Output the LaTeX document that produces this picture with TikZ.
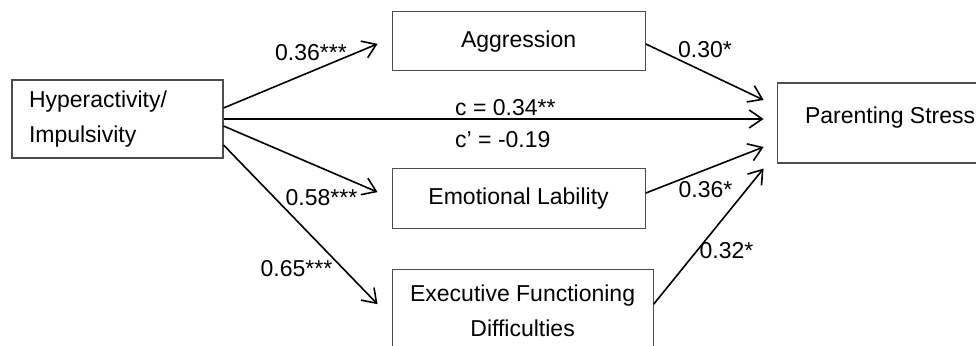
\documentclass[tikz,border=0pt]{standalone}
\usepackage{fontspec}
\setmainfont{Liberation Sans}
\usepackage{tikz}
\usetikzlibrary{shapes,arrows.meta}
\usetikzlibrary{positioning}
\tikzstyle{arrow} = [line width=1.6pt,-{Straight Barb[length=13pt,width=18pt]}]
\tikzstyle{var} = [
    rectangle, minimum width=253pt, minimum height=60pt, text centered,
    draw=black!70, line width=1.1pt, font=\fontsize{23}{35}\selectfont]
\tikzstyle{coef} = [inner sep=0pt, anchor=base, font=\fontsize{23}{35}\selectfont]

\begin{document}
\begin{tikzpicture}[x=1pt,y=-1pt]
\useasboundingbox (0,0) rectangle (976,345);
\clip (0,0) rectangle (976,345);

\node (hyper) [var, minimum width=0pt, text width=177pt, inner xsep=17pt,
    minimum height=78pt, align=left] at (117.5,119) {
    Hyperactivity/ \\
    Impulsivity
};

\node (aggr) [var, minimum height=59pt, above right=8pt and 168pt of hyper] {Aggression};

\node (emo) [var, below right=9pt and 168pt of hyper] {Emotional Lability};

\node (exec) [var, minimum width=261pt, minimum height=84pt, align=center,
    below right=40pt and 0pt of emo.south west] {
    Executive Functioning \\
    Difficulties
};

\node (stress) [var, minimum width=226pt, minimum height=80pt, text height=20pt,
    text depth=20pt, right=553pt of hyper, yshift=-4pt] {Parenting Stress};

\draw [arrow] ([yshift=11pt]hyper.east) -- ([xshift=-14pt,yshift=-2.5pt]aggr.west);
\draw [arrow] (hyper.east) -- ([xshift=-13pt,yshift=4pt]stress.west);
\draw [arrow] ([yshift=-7pt]hyper.east) -- ([xshift=-14pt,yshift=6pt]emo.west);
\draw [arrow] ([yshift=-26pt]hyper.east) -- ([xshift=-14pt,yshift=7pt]exec.west);
\draw [arrow] ([yshift=-2.5pt]aggr.east) -- ([xshift=-13pt,yshift=23pt]stress.west);
\draw [arrow] ([yshift=5pt]emo.east) -- ([xshift=-13pt,yshift=-24pt]stress.west);
\draw [arrow] ([yshift=7pt]exec.east) -- ([xshift=-13pt,yshift=-5pt]stress.south west);

% path coefficients
\node (a-aggr) [coef] at (311,60) {0.36***};
\node (b-aggr) [coef] at (705,58) {0.30*};
\node (c-total) [coef, anchor=base west] at (455,115) {c = 0.34**};
\node (c-direct) [coef, anchor=base west] at (455,147) {c’ = -0.19};
\node (a-emo) [coef] at (321.5,205) {0.58***};
\node (b-emo) [coef] at (705.5,197) {0.36*};
\node (a-exec) [coef] at (296.5,276) {0.65***};
\node (b-exec) [coef] at (726.5,258) {0.32*};
\end{tikzpicture}
\end{document}
